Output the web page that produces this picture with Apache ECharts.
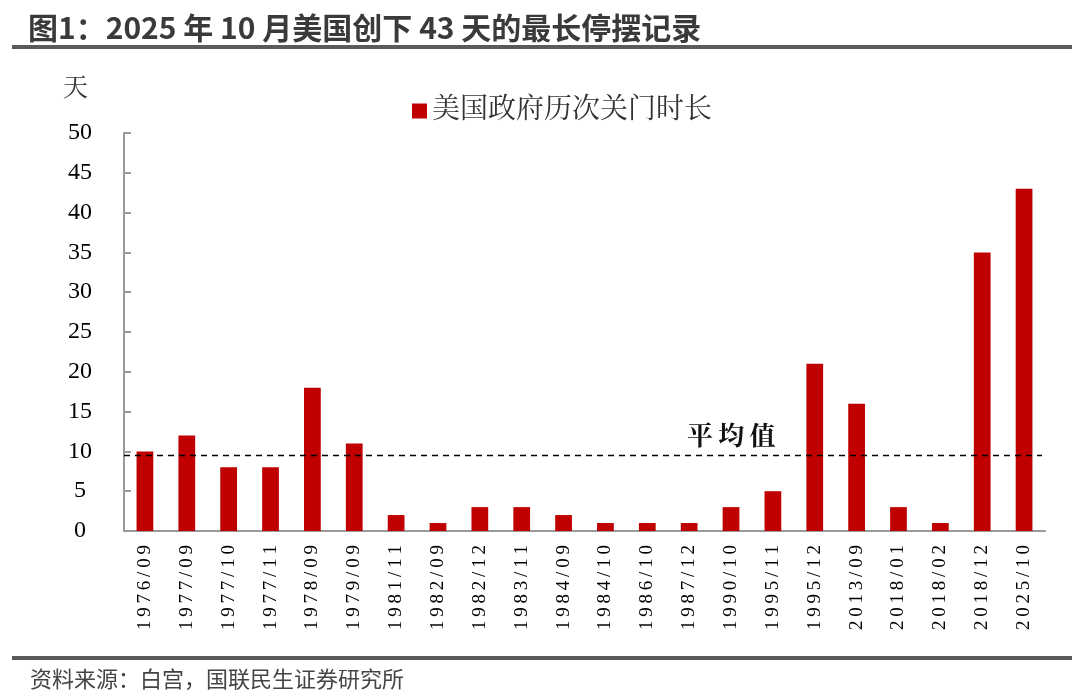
<!DOCTYPE html>
<html><head><meta charset="utf-8">
<script src="https://cdn.jsdelivr.net/npm/echarts@6/dist/echarts.min.js"></script>
<style>html,body{margin:0;padding:0;background:#fff}#c{width:1080px;height:697px}</style>
</head><body><div id="c"></div>
<script>
const categories = ["1976/09","1977/09","1977/10","1977/11","1978/09","1979/09","1981/11","1982/09","1982/12","1983/11","1984/09","1984/10","1986/10","1987/12","1990/10","1995/11","1995/12","2013/09","2018/01","2018/02","2018/12","2025/10"];
const durations = [10,12,8,8,18,11,2,1,3,3,2,1,1,1,3,5,21,16,3,1,35,43];
const yTicks = [0,5,10,15,20,25,30,35,40,45,50];
const avg = durations.reduce((a,b)=>a+b,0)/durations.length;

const chart = echarts.init(document.getElementById('c'));
const serif = '"Liberation Serif","Noto Serif CJK SC","Noto Sans CJK SC",serif';
chart.setOption({
  animation:false,
  grid:{left:124,right:35,top:133,bottom:166},
  legend:{data:['美国政府历次关门时长'],left:407,top:92,itemWidth:15,itemHeight:15,icon:'rect',itemGap:6,
    textStyle:{fontFamily:serif,fontSize:28,color:'#333'}},
  xAxis:{type:'category',data:categories,
    axisLine:{lineStyle:{color:'#999',width:2}},
    axisTick:{inside:true,length:7,lineStyle:{color:'#999',width:2}},
    axisLabel:{rotate:90,fontFamily:serif,fontSize:19,color:'#000',margin:14,interval:0,
      formatter:v=>v.split('').join('\u2009')}},
  yAxis:{type:'value',min:yTicks[0],max:yTicks[yTicks.length-1],interval:5,
    splitLine:{show:false},
    axisLine:{show:true,lineStyle:{color:'#999',width:2}},
    axisTick:{show:true,inside:true,length:7,lineStyle:{color:'#999',width:2}},
    axisLabel:{fontFamily:serif,fontSize:24,color:'#000',margin:44,align:'center'}},
  series:[{name:'美国政府历次关门时长',type:'bar',data:durations,barWidth:'40%',
    itemStyle:{color:'#c00000'},
    markLine:{symbol:'none',silent:true,label:{show:false},
      lineStyle:{color:'#000',type:[6,5],width:1.3},
      data:[[{coord:[0,avg],x:124},{coord:[21,avg],x:1042}]]}}],
  graphic:[
    {type:'text',left:28,top:13,style:{text:'图1：2025 年 10 月美国创下 43 天的最长停摆记录',font:'bold 30px "Noto Sans CJK SC",sans-serif',fill:'#3a3a3a'}},
    {type:'rect',shape:{x:12,y:45,width:1060,height:4},style:{fill:'#5a5a5a'}},
    {type:'text',left:63,top:77,style:{text:'天',font:'25px '+serif,fill:'#333'}},
    {type:'text',left:687,top:422,style:{text:'平\u2009均\u2009值',font:'bold 26px "Noto Serif CJK SC","Noto Sans CJK SC",serif',fill:'#111'}},
    {type:'rect',shape:{x:12,y:656,width:1060,height:4},style:{fill:'#5a5a5a'}},
    {type:'text',left:30,top:668,style:{text:'资料来源：白宫，国联民生证券研究所',font:'22px "Noto Sans CJK SC",sans-serif',fill:'#444'}}
  ]
});
</script></body></html>
